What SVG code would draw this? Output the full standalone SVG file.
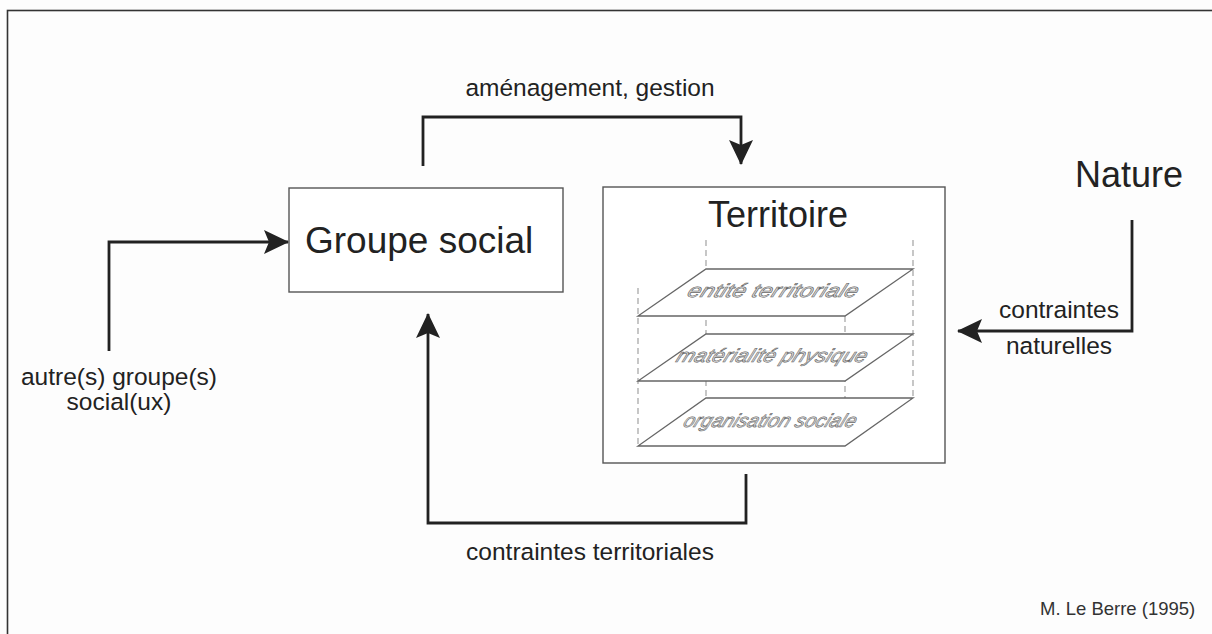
<svg xmlns="http://www.w3.org/2000/svg" width="1212" height="634" viewBox="0 0 1212 634">
<defs>
<style>
.lbl{font-family:"Liberation Sans",Arial,sans-serif;font-size:24.5px;fill:#222}
.big{font-family:"Liberation Sans",Arial,sans-serif;font-size:36px;fill:#222}
.box{fill:#fff;stroke:#555;stroke-width:1.4}
.plane{fill:#fff;stroke:#666;stroke-width:1.3}
.dash{stroke:#999;stroke-width:1.1;stroke-dasharray:6 4;fill:none}
.pl{font-family:"Liberation Sans",Arial,sans-serif;font-size:19px;font-style:italic;fill:#d8d8d8;stroke:#666;stroke-width:0.6;text-anchor:middle}
.conn{fill:none;stroke:#222;stroke-width:2.8}
</style>
<marker id="ah" markerUnits="userSpaceOnUse" markerWidth="28" markerHeight="26" refX="24" refY="12" orient="auto">
<path d="M0,0 L25,12 L0,24 L5,12 Z" fill="#222"/>
</marker>
</defs>
<rect x="0" y="0" width="1212" height="634" fill="#fdfdfd"/>
<rect x="7.5" y="10.5" width="1300" height="700" fill="none" stroke="#333" stroke-width="1.6"/>

<g id="groupe-social">
<rect class="box" x="289" y="188" width="274" height="104"/>
<text class="big" x="305" y="253" style="font-size:37px">Groupe social</text>
</g>

<g id="territoire">
<rect class="box" x="603" y="187" width="342" height="276"/>
<text class="big" x="778" y="227" text-anchor="middle">Territoire</text>
<g id="dashes">
<line class="dash" x1="638" y1="288" x2="638" y2="446"/>
<line class="dash" x1="706" y1="240" x2="706" y2="398"/>
<line class="dash" x1="913" y1="240" x2="913" y2="398"/>
<line class="dash" x1="845" y1="316" x2="845" y2="446"/>
</g>
<g id="plane-organisation">
<polygon class="plane" points="706,398 913,398 845,446 638,446"/>
<text class="pl" transform="translate(768,427) skewX(-22)" textLength="172" lengthAdjust="spacingAndGlyphs">organisation sociale</text>
</g>
<g id="plane-materialite">
<polygon class="plane" points="706,334 913,334 845,381 638,381"/>
<text class="pl" transform="translate(770,362) skewX(-22)" textLength="190" lengthAdjust="spacingAndGlyphs">matérialité physique</text>
</g>
<g id="plane-entite">
<polygon class="plane" points="706,269 913,269 845,316 638,316"/>
<text class="pl" transform="translate(771,297) skewX(-22)" textLength="170" lengthAdjust="spacingAndGlyphs">entité territoriale</text>
</g>
</g>

<g id="nature">
<text class="big" x="1129" y="187" text-anchor="middle">Nature</text>
</g>

<g id="autres-groupes">
<text class="lbl" x="119" y="385" text-anchor="middle">autre(s) groupe(s)</text>
<text class="lbl" x="119" y="410" text-anchor="middle">social(ux)</text>
</g>

<g id="connectors">
<polyline class="conn" points="423,166 423,117 741,117 741,164" marker-end="url(#ah)"/>
<polyline class="conn" points="746,474 746,523 428,523 428,314" marker-end="url(#ah)"/>
<polyline class="conn" points="109,351 109,242 288,242" marker-end="url(#ah)"/>
<polyline class="conn" points="1132,220 1132,331 958,331" marker-end="url(#ah)"/>
<text class="lbl" x="590" y="96" text-anchor="middle">aménagement, gestion</text>
<text class="lbl" x="590" y="560" text-anchor="middle">contraintes territoriales</text>
<text class="lbl" x="1059" y="318" text-anchor="middle">contraintes</text>
<text class="lbl" x="1059" y="354" text-anchor="middle">naturelles</text>
</g>

<text x="1040" y="615" font-family="Liberation Sans, Arial, sans-serif" font-size="18.5" fill="#333">M. Le Berre (1995)</text>
</svg>
